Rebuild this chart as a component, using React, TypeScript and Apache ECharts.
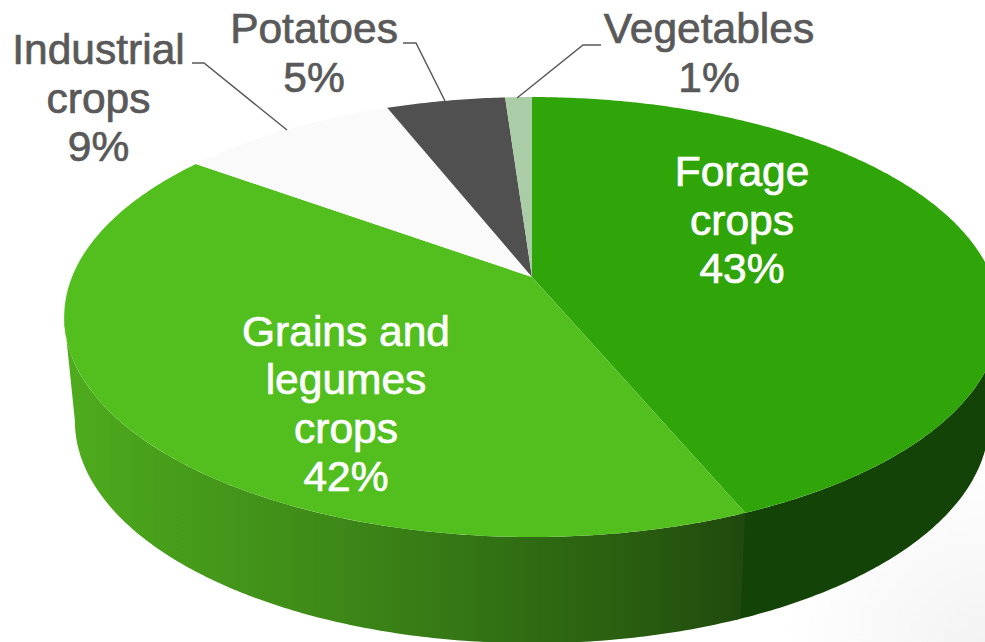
import React, { useEffect, useRef } from "react";
import * as echarts from "echarts";

const names = ["Forage\ncrops", "Grains and\nlegumes\ncrops", "Industrial\ncrops", "Potatoes", "Vegetables"];
// Printed labels, as they appear in the picture
const percentLabels = ["43%", "42%", "9%", "5%", "1%"];
const shares = [43.7, 41.3, 9.0, 4.9, 1.1];
const topColors = ["#30a509", "#52bf1f", "#fafafa", "#505050", "#aacca6"];
const labelColors = ["#ffffff", "#ffffff", "#595959", "#595959", "#595959"];

const W = 985;
const H = 642;
// Perspective projection of the disc onto the page
const apex = { x: 532, y: 277 };
const persp = { k: -0.182, a: 212.7, b: 460 };
const depth = { dy: 104, sx: 0.977, sy: 1.01, cy: 317, cx: 530.5 };
const labelBoxes = [
  { x: 742, y: 220 },
  { x: 346, y: 404 },
  { x: 98.5, y: 98 },
  { x: 314, y: 53 },
  { x: 709, y: 53 },
];
const leaders: ([number, number][] | null)[] = [
  null,
  null,
  [[192, 63], [204, 63], [287, 130]],
  [[403, 43], [416, 43], [445, 101]],
  [[601, 45], [583, 45], [517, 98]],
];

const total = shares.reduce((s, v) => s + v, 0);
const starts: number[] = [];
shares.reduce((acc, v, i) => {
  starts[i] = acc;
  return acc + v;
}, 0);
const toAngle = (v: number) => (v / total) * Math.PI * 2;

function rimTop(t: number): [number, number] {
  const u = Math.sin(t);
  const v = -Math.cos(t);
  const d = 1 + persp.k * v;
  return [apex.x + (persp.b * u) / d, apex.y + (persp.a * v) / d];
}
function rimBottom(t: number): [number, number] {
  const [x, y] = rimTop(t);
  return [depth.cx + (x - depth.cx) * depth.sx, depth.cy + depth.dy + (y - depth.cy) * depth.sy];
}
function arc(fn: (t: number) => [number, number], a: number, b: number) {
  const n = Math.max(2, Math.ceil(Math.abs(b - a) / 0.01));
  const pts: [number, number][] = [];
  for (let i = 0; i <= n; i++) pts.push(fn(a + ((b - a) * i) / n));
  return pts;
}

const frontStart = Math.acos(persp.k);
const frontEnd = Math.PI * 2 - frontStart;
const seamOverlap = 0.012;

const sideFills: any[] = [
  "#134306",
  {
    type: "linear",
    x: 70,
    y: 0,
    x2: 745,
    y2: 0,
    global: true,
    colorStops: [
      { offset: 0, color: "#4fab1e" },
      { offset: 0.12, color: "#48a01b" },
      { offset: 0.38, color: "#3e8a18" },
      { offset: 0.68, color: "#306c13" },
      { offset: 0.88, color: "#27580f" },
      { offset: 1, color: "#20490e" },
    ],
  },
];

export default function App() {
  const ref = useRef<HTMLDivElement>(null);
  useEffect(() => {
    document.body.style.margin = "0";
    const chart = echarts.init(ref.current!, undefined, { renderer: "svg" });
    const seriesData = shares.map((v, i) => ({ name: names[i].replace(/\n/g, " "), value: v }));
    chart.setOption({
      animation: false,
      backgroundColor: "#ffffff",
      graphic: [
        {
          type: "rect",
          silent: true,
          z: -1,
          shape: { x: 760, y: 440, width: 225, height: 202 },
          style: {
            fill: {
              type: "radial",
              x: 1,
              y: 1,
              r: 0.9,
              colorStops: [
                { offset: 0, color: "#f3f3f3" },
                { offset: 0.5, color: "#f9f9f9" },
                { offset: 1, color: "#ffffff" },
              ],
            },
          },
        },
      ],
      series: [
        {
          type: "custom",
          name: "side",
          coordinateSystem: "none",
          silent: true,
          z: 2,
          data: seriesData,
          renderItem: (p: any) => {
            const i = p.dataIndex;
            const a = Math.max(toAngle(starts[i]), frontStart);
            const b = Math.min(toAngle(starts[i] + shares[i]) + (i === 0 ? seamOverlap : 0), frontEnd);
            if (b <= a || !sideFills[i]) return { type: "group", children: [] };
            const points = [...arc(rimTop, a, b), ...arc(rimBottom, b, a)];
            return { type: "polygon", shape: { points }, style: { fill: sideFills[i], stroke: "none" } };
          },
        },
        {
          type: "custom",
          name: "top",
          coordinateSystem: "none",
          silent: true,
          z: 3,
          data: seriesData,
          renderItem: (p: any) => {
            const i = p.dataIndex;
            const a = toAngle(starts[i]);
            const b = toAngle(starts[i] + shares[i]);
            const points = [[apex.x, apex.y], ...arc(rimTop, a, b)];
            return { type: "polygon", shape: { points }, style: { fill: topColors[i], stroke: "none" } };
          },
        },
        {
          type: "custom",
          name: "labels",
          coordinateSystem: "none",
          silent: true,
          z: 4,
          data: seriesData,
          renderItem: (p: any) => {
            const i = p.dataIndex;
            const children: any[] = [
              {
                type: "text",
                x: labelBoxes[i].x,
                y: labelBoxes[i].y,
                style: {
                  text: `${names[i]}\n${percentLabels[i]}`,
                  fill: labelColors[i],
                  stroke: labelColors[i],
                  lineWidth: 0.7,
                  font: '42.5px "Liberation Sans", Arial, sans-serif',
                  lineHeight: 48.5,
                  align: "center",
                  verticalAlign: "middle",
                },
              },
            ];
            if (leaders[i]) {
              children.push({
                type: "polyline",
                shape: { points: leaders[i] },
                style: { fill: "none", stroke: "#595959", lineWidth: 1.5 },
              });
            }
            return { type: "group", children };
          },
        },
      ],
    });
    return () => chart.dispose();
  }, []);
  return <div ref={ref} style={{ position: "absolute", left: 0, top: 0, width: W, height: H }} />;
}
